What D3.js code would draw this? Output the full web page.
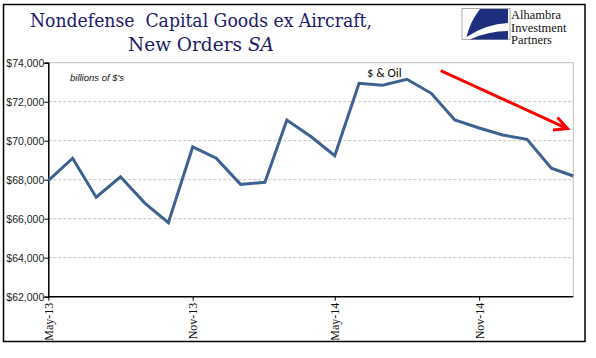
<!DOCTYPE html>
<html>
<head>
<meta charset="utf-8">
<script src="https://cdn.jsdelivr.net/npm/d3@7/dist/d3.min.js"></script>
<style>
body{margin:0;background:#fff;}
svg{display:block;}
</style>
</head>
<body>
<svg id="c" width="596" height="358"></svg>
<script>
const months = ["2013-05","2013-06","2013-07","2013-08","2013-09","2013-10","2013-11","2013-12",
"2014-01","2014-02","2014-03","2014-04","2014-05","2014-06","2014-07","2014-08","2014-09","2014-10",
"2014-11","2014-12","2015-01","2015-02","2015-03"];
const values = [67950,69100,67100,68150,66800,65800,69680,69100,
67760,67870,71060,70200,69230,72940,72840,73150,72430,71060,
70650,70290,70070,68590,68190];
const yTicks = [62000,64000,66000,68000,70000,72000,74000];
const xTickLabels = ["May-13","Nov-13","May-14","Nov-14"];
const xTickDates = ["2013-05","2013-11","2014-05","2014-11"];

const parse = d3.timeParse("%Y-%m");
const data = months.map((m,i)=>({date:parse(m), value:values[i]}));

const svg = d3.select("#c");
const L=48.3, R=573.3, T=62.7, B=296.7;

// outer border
svg.append("rect").attr("x",3.5).attr("y",4.5).attr("width",581.5).attr("height",337)
  .attr("fill","none").attr("stroke","#000").attr("stroke-width",1.5);

const x = d3.scaleTime().domain([data[0].date, data[data.length-1].date]).range([L,R]);
const y = d3.scaleLinear().domain([62000,74000]).range([B,T]);

// plot border (gray top/right)
svg.append("path").attr("d",`M${L},${T}H${R}V${B}`).attr("fill","none").attr("stroke","#bdbdbd").attr("stroke-width",1);

// gridlines
svg.append("g").selectAll("line").data(yTicks.filter(v=>v>62000 && v<74000)).join("line")
  .attr("x1",L).attr("x2",R).attr("y1",d=>y(d)).attr("y2",d=>y(d))
  .attr("stroke","#b0b0b0").attr("stroke-width",0.8).attr("stroke-dasharray","3,2");

// y axis
const yAxis = d3.axisLeft(y).tickValues(yTicks).tickSize(4).tickFormat(d=>"$"+d3.format(",")(d));
const gy = svg.append("g").attr("transform",`translate(${L},0)`).call(yAxis);
gy.select(".domain").attr("stroke","#000").attr("stroke-width",1.5);
gy.selectAll(".tick line").attr("stroke","#000");
gy.selectAll("text").attr("font-family","'Liberation Sans', Arial, sans-serif").attr("font-size","10.5px")
  .attr("fill","#222").attr("x",-4).attr("dy","0.35em");

// x axis
const xAxis = d3.axisBottom(x).tickValues(xTickDates.map(parse)).tickSize(4)
  .tickFormat((d,i)=>xTickLabels[i]);
const gx = svg.append("g").attr("transform",`translate(0,${B})`).call(xAxis);
gx.select(".domain").attr("stroke","#000").attr("stroke-width",1.5).attr("d",`M${L},0H${R}`);
gx.selectAll(".tick line").attr("stroke","#000");
gx.selectAll("text").attr("font-family","'Liberation Serif', 'Times New Roman', serif").attr("font-size","12px")
  .attr("fill","#111").attr("transform","rotate(-90)").attr("text-anchor","end")
  .attr("x",-6).attr("y",0).attr("dy","0.35em");

// line
svg.append("path").datum(data)
  .attr("d", d3.line().x(d=>x(d.date)).y(d=>y(d.value)))
  .attr("fill","none").attr("stroke","#3d6190").attr("stroke-width",3).attr("stroke-linejoin","miter");

// annotations
svg.append("text").attr("x",70).attr("y",81).text("billions of $'s")
  .attr("font-family","'Liberation Sans', Arial, sans-serif").attr("font-style","italic").attr("font-size","9.5px").attr("fill","#111");
svg.append("text").attr("x",367).attr("y",77).text("$ & Oil")
  .attr("font-family","Carlito, 'Liberation Sans', Arial, sans-serif").attr("font-size","12.5px").attr("fill","#111");

// red arrow
svg.append("path").attr("d","M440.7,70.7L566.7,128.3").attr("stroke","#ff0000").attr("stroke-width",3).attr("fill","none");
svg.append("path").attr("d","M557.5,117.5L567.5,128.5L553,130").attr("stroke","#ff0000").attr("stroke-width",3).attr("fill","none").attr("stroke-linejoin","miter");

// title
const tf = "'DejaVu Serif', Georgia, 'Liberation Serif', serif";
const t1 = svg.append("text").attr("x",30).attr("y",27).attr("font-family",tf).attr("font-size","19px").attr("fill","#1b1a6b")
  .text("Nondefense  Capital Goods ex Aircraft,").attr("xml:space","preserve").style("white-space","pre");
t1.attr("textLength",342).attr("lengthAdjust","spacingAndGlyphs");
const t2 = svg.append("text").attr("x",128).attr("y",51).attr("font-family",tf).attr("font-size","18.5px").attr("fill","#1b1a6b");
t2.append("tspan").text("New Orders ");
t2.append("tspan").attr("font-style","italic").text("SA");

// logo
const lg = svg.append("g");
lg.append("rect").attr("x",462).attr("y",8.5).attr("width",48).attr("height",31).attr("fill","#fff").attr("stroke","#9a9a9a").attr("stroke-width",0.8);
lg.append("path").attr("d","M480,9 L508,9 L508,23 Q486,24 466.5,37 Q470,22 480,9 Z").attr("fill","#1d2f7e");
lg.append("path").attr("d","M470,39.5 Q488,31 508,31 L508,39.5 Z").attr("fill","#1d2f7e");
const lf = "'Liberation Serif', 'Times New Roman', serif";
["Alhambra","Investment","Partners"].forEach((s,i)=>{
  lg.append("text").attr("x",511).attr("y",19+i*12.5).attr("font-family",lf).attr("font-size","12.5px").attr("fill","#111").text(s);
});
</script>
</body>
</html>
